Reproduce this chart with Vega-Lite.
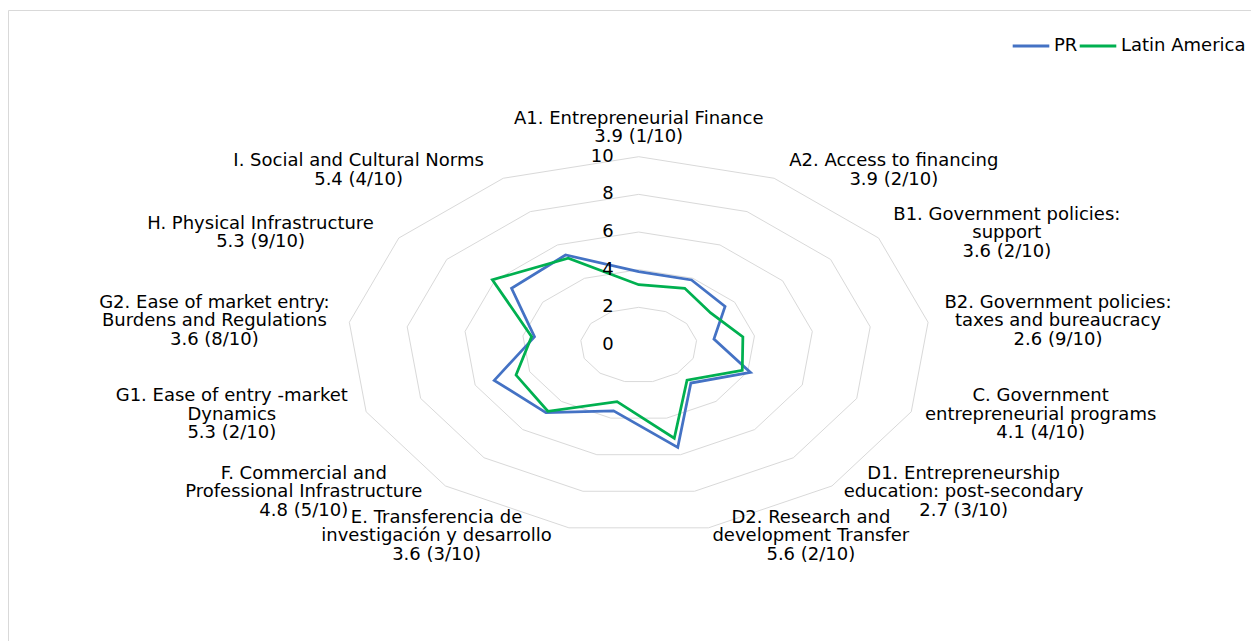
{
  "$schema": "https://vega.github.io/schema/vega-lite/v6.json",
  "width": 1243,
  "height": 631,
  "autosize": {"type": "none"},
  "padding": {"left": 8, "top": 10, "right": 0, "bottom": 0},
  "background": "white",
  "config": {
    "view": {"stroke": "#d9d9d9", "strokeWidth": 1},
    "text": {"font": "DejaVu Sans"},
    "legend": {"labelFont": "DejaVu Sans"}
  },
  "datasets": {
    "scores": [
      {"idx": 0, "series": "PR", "value": 3.9},
      {"idx": 1, "series": "PR", "value": 3.9},
      {"idx": 2, "series": "PR", "value": 3.6},
      {"idx": 3, "series": "PR", "value": 2.6},
      {"idx": 4, "series": "PR", "value": 4.1},
      {"idx": 5, "series": "PR", "value": 2.7},
      {"idx": 6, "series": "PR", "value": 5.6},
      {"idx": 7, "series": "PR", "value": 3.6},
      {"idx": 8, "series": "PR", "value": 4.8},
      {"idx": 9, "series": "PR", "value": 5.3},
      {"idx": 10, "series": "PR", "value": 3.6},
      {"idx": 11, "series": "PR", "value": 5.3},
      {"idx": 12, "series": "PR", "value": 5.4},
      {"idx": 0, "series": "Latin America", "value": 3.2},
      {"idx": 1, "series": "Latin America", "value": 3.4},
      {"idx": 2, "series": "Latin America", "value": 3.0},
      {"idx": 3, "series": "Latin America", "value": 3.6},
      {"idx": 4, "series": "Latin America", "value": 3.8},
      {"idx": 5, "series": "Latin America", "value": 2.5},
      {"idx": 6, "series": "Latin America", "value": 5.1},
      {"idx": 7, "series": "Latin America", "value": 3.1},
      {"idx": 8, "series": "Latin America", "value": 4.7},
      {"idx": 9, "series": "Latin America", "value": 4.5},
      {"idx": 10, "series": "Latin America", "value": 3.7},
      {"idx": 11, "series": "Latin America", "value": 6.1},
      {"idx": 12, "series": "Latin America", "value": 5.2}
    ],
    "categories": [
      {"idx": 0, "label": "A1. Entrepreneurial Finance\n3.9 (1/10)"},
      {"idx": 1, "label": "A2. Access to financing\n3.9 (2/10)"},
      {"idx": 2, "label": "B1. Government policies:\nsupport\n3.6 (2/10)"},
      {"idx": 3, "label": "B2. Government policies:\ntaxes and bureaucracy\n2.6 (9/10)"},
      {"idx": 4, "label": "C. Government\nentrepreneurial programs\n4.1 (4/10)"},
      {"idx": 5, "label": "D1. Entrepreneurship\neducation: post-secondary\n2.7 (3/10)"},
      {"idx": 6, "label": "D2. Research and\ndevelopment Transfer\n5.6 (2/10)"},
      {"idx": 7, "label": "E. Transferencia de\ninvestigación y desarrollo\n3.6 (3/10)"},
      {"idx": 8, "label": "F. Commercial and\nProfessional Infrastructure\n4.8 (5/10)"},
      {"idx": 9, "label": "G1. Ease of entry -market\nDynamics\n5.3 (2/10)"},
      {"idx": 10, "label": "G2. Ease of market entry:\nBurdens and Regulations\n3.6 (8/10)"},
      {"idx": 11, "label": "H. Physical Infrastructure\n5.3 (9/10)"},
      {"idx": 12, "label": "I. Social and Cultural Norms\n5.4 (4/10)"}
    ],
    "rings": [
      {"level": 2, "k": [0, 1, 2, 3, 4, 5, 6, 7, 8, 9, 10, 11, 12]},
      {"level": 4, "k": [0, 1, 2, 3, 4, 5, 6, 7, 8, 9, 10, 11, 12]},
      {"level": 6, "k": [0, 1, 2, 3, 4, 5, 6, 7, 8, 9, 10, 11, 12]},
      {"level": 8, "k": [0, 1, 2, 3, 4, 5, 6, 7, 8, 9, 10, 11, 12]},
      {"level": 10, "k": [0, 1, 2, 3, 4, 5, 6, 7, 8, 9, 10, 11, 12]}
    ],
    "ticks": [{"v": 0}, {"v": 2}, {"v": 4}, {"v": 6}, {"v": 8}, {"v": 10}]
  },
  "encoding": {
    "x": {"field": "x", "type": "quantitative", "scale": {"domain": [-21.636, 21.005], "nice": false, "zero": false}, "axis": null},
    "y": {"field": "y", "type": "quantitative", "scale": {"domain": [-15.72, 17.791], "nice": false, "zero": false}, "axis": null}
  },
  "layer": [
    {
      "data": {"name": "rings"},
      "transform": [
        {"flatten": ["k"]},
        {"calculate": "datum.level*sin(datum.k*2*PI/13)", "as": "x"},
        {"calculate": "datum.level*cos(datum.k*2*PI/13)", "as": "y"}
      ],
      "mark": {"type": "line", "interpolate": "linear-closed", "stroke": "#d9d9d9", "strokeWidth": 1},
      "encoding": {
        "detail": {"field": "level", "type": "nominal"},
        "order": {"field": "k", "type": "quantitative"}
      }
    },
    {
      "data": {"name": "scores"},
      "transform": [
        {"calculate": "datum.value*sin(datum.idx*2*PI/13)", "as": "x"},
        {"calculate": "datum.value*cos(datum.idx*2*PI/13)", "as": "y"}
      ],
      "mark": {"type": "line", "interpolate": "linear-closed", "strokeWidth": 2.75},
      "encoding": {
        "color": {
          "field": "series", "type": "nominal",
          "scale": {"domain": ["PR", "Latin America"], "range": ["#4472C4", "#00B050"]},
          "legend": {
            "title": null, "orient": "none", "direction": "horizontal",
            "legendX": 1003, "legendY": 16, "padding": 0,
            "symbolType": "stroke", "symbolSize": 1340, "symbolStrokeWidth": 3,
            "labelFontSize": 18, "labelColor": "#000000", "labelOffset": 3, "columnPadding": -5
          }
        },
        "order": {"field": "idx", "type": "quantitative"}
      }
    },
    {
      "data": {"name": "ticks"},
      "transform": [
        {"calculate": "0", "as": "x"},
        {"calculate": "datum.v", "as": "y"}
      ],
      "mark": {"type": "text", "align": "right", "baseline": "middle", "dx": -25, "fontSize": 18, "color": "#000000"},
      "encoding": {"text": {"field": "v", "type": "quantitative", "format": "d"}}
    },
    {
      "data": {"name": "categories"},
      "transform": [
        {"calculate": "datum.idx*2*PI/13", "as": "theta"},
        {"calculate": "split(datum.label, '\\n')", "as": "lines"},
        {"calculate": "length(datum.lines)", "as": "nlines"},
        {"calculate": "max(length(datum.lines[0]), datum.nlines > 1 ? length(datum.lines[1]) : 0, datum.nlines > 2 ? length(datum.lines[2]) : 0)", "as": "maxlen"},
        {"calculate": "10*sin(datum.theta) + (abs(sin(datum.theta)) < 0.1 ? 0 : (sin(datum.theta) > 0 ? 1 : -1) * (10*abs(sin(datum.theta)) + datum.maxlen*5)/29.15)", "as": "x"},
        {"calculate": "10*cos(datum.theta) + (8.5*cos(datum.theta) + (abs(sin(datum.theta)) < 0.1 ? 20 : 0) + (datum.nlines - 1)*9.25)/18.83", "as": "y"}
      ],
      "mark": {"type": "text", "align": "center", "baseline": "middle", "lineBreak": "\n", "fontSize": 18, "lineHeight": 18.5, "color": "#000000"},
      "encoding": {"text": {"field": "label", "type": "nominal"}}
    }
  ]
}
